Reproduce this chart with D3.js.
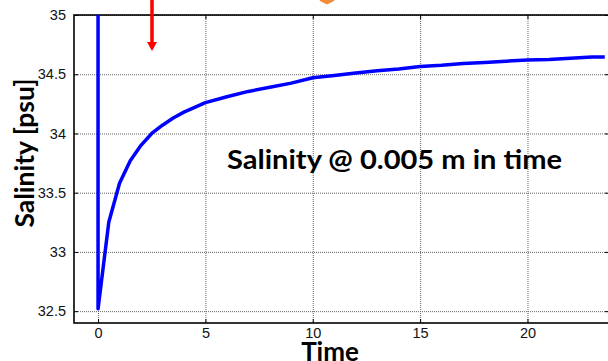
<!DOCTYPE html>
<html>
<head>
<meta charset="utf-8">
<script src="https://cdn.jsdelivr.net/npm/d3@7"></script>
<style>
  html, body { margin: 0; padding: 0; background: #fff; }
  svg { display: block; }
</style>
</head>
<body>
<svg width="608" height="361"></svg>
<script>
// data
const time = [0, 0, 0.5, 1, 1.5, 2, 2.5, 3, 3.5, 4, 5, 6, 7, 8, 9, 10, 11, 12, 13, 14, 15, 16, 17, 18, 19, 20, 21, 22, 23, 23.6];
const salinity = [35, 32.52, 33.25, 33.58, 33.77, 33.9, 34.0, 34.07, 34.13, 34.18, 34.26, 34.31, 34.355, 34.39, 34.425, 34.47, 34.49, 34.51, 34.53, 34.545, 34.565, 34.575, 34.59, 34.6, 34.61, 34.62, 34.625, 34.635, 34.645, 34.645];
const xTicks = [0, 5, 10, 15, 20];
const yTicks = [32.5, 33, 33.5, 34, 34.5, 35];

const svg = d3.select('svg');

const x = d3.scaleLinear().domain([-1.12, 23.75]).range([74, 608]);
const y = d3.scaleLinear().domain([32.4, 35]).range([323, 15]);

const x0 = 74, x1 = 609, y0 = 323, y1 = 15;

// grille pointillée
const grid = svg.append('g')
  .attr('stroke', '#666')
  .attr('stroke-width', 1)
  .attr('stroke-dasharray', '1,1');
grid.selectAll('.gx').data(xTicks).join('line')
  .attr('x1', d => x(d) + 0.5).attr('x2', d => x(d) + 0.5)
  .attr('y1', y1).attr('y2', y0);
grid.selectAll('.gy').data(yTicks).join('line')
  .attr('x1', x0).attr('x2', x1)
  .attr('y1', d => y(d) + 0.5).attr('y2', d => y(d) + 0.5);

// axes (ticks pointing in)
const axisFont = g => g.selectAll('text')
  .attr('font-family', 'Liberation Sans, Arial, sans-serif')
  .attr('font-size', 14.5)
  .attr('fill', '#111');

svg.append('g')
  .attr('transform', `translate(0,${y0})`)
  .call(d3.axisBottom(x).tickValues(xTicks).tickSize(-4).tickPadding(5).tickFormat(d3.format('d')))
  .call(g => g.select('.domain').remove())
  .call(axisFont);

svg.append('g')
  .attr('transform', `translate(${x0},0)`)
  .call(d3.axisLeft(y).tickValues(yTicks).tickSize(-4).tickPadding(8).tickFormat(d => d))
  .call(g => g.select('.domain').remove())
  .call(axisFont);

svg.append('g')
  .attr('transform', `translate(0,${y1})`)
  .call(d3.axisTop(x).tickValues(xTicks).tickSize(-4).tickFormat(''))
  .call(g => g.select('.domain').remove());

svg.append('g')
  .attr('transform', `translate(${x1},0)`)
  .call(d3.axisRight(y).tickValues(yTicks).tickSize(-4).tickFormat(''))
  .call(g => g.select('.domain').remove());

// frame
svg.append('rect')
  .attr('x', x0).attr('y', y1)
  .attr('width', x1 - x0).attr('height', y0 - y1)
  .attr('fill', 'none')
  .attr('stroke', '#000')
  .attr('stroke-width', 1.6);

// courbe
const line = d3.line()
  .x((d, i) => x(time[i]))
  .y(d => y(d));

svg.append('path')
  .datum(salinity)
  .attr('d', line)
  .attr('fill', 'none')
  .attr('stroke', '#0000ff')
  .attr('stroke-width', 3.5)
  .attr('stroke-linejoin', 'round');

// labels
svg.append('text')
  .attr('x', 227).attr('y', 169)
  .attr('font-family', 'Lato, Open Sans, sans-serif')
  .attr('font-weight', 'bold')
  .attr('font-size', 26)
  .attr('textLength', 335)
  .attr('lengthAdjust', 'spacingAndGlyphs')
  .text('Salinity @ 0.005 m in time');

svg.append('text')
  .attr('x', 330).attr('y', 361)
  .attr('text-anchor', 'middle')
  .attr('font-family', 'Lato, Open Sans, sans-serif')
  .attr('font-weight', 'bold')
  .attr('font-size', 26)
  .text('Time');

svg.append('text')
  .attr('transform', 'translate(34,153) rotate(-90)')
  .attr('text-anchor', 'middle')
  .attr('font-family', 'Lato, Open Sans, sans-serif')
  .attr('font-weight', 'bold')
  .attr('font-size', 26)
  .attr('textLength', 149)
  .attr('lengthAdjust', 'spacingAndGlyphs')
  .text('Salinity [psu]');

// red arrow
svg.append('line')
  .attr('x1', 152).attr('x2', 152)
  .attr('y1', 0).attr('y2', 43)
  .attr('stroke', '#ff0000')
  .attr('stroke-width', 3.5);
svg.append('path')
  .attr('d', 'M147,42 L157,42 L152,51 Z')
  .attr('fill', '#ff0000');

// orange mark at top (cut off)
svg.append('path')
  .attr('d', 'M318,-4 L336,-4 L334,1 L327,4.5 L320,1 Z')
  .attr('fill', '#f28c38');
</script>
</body>
</html>
